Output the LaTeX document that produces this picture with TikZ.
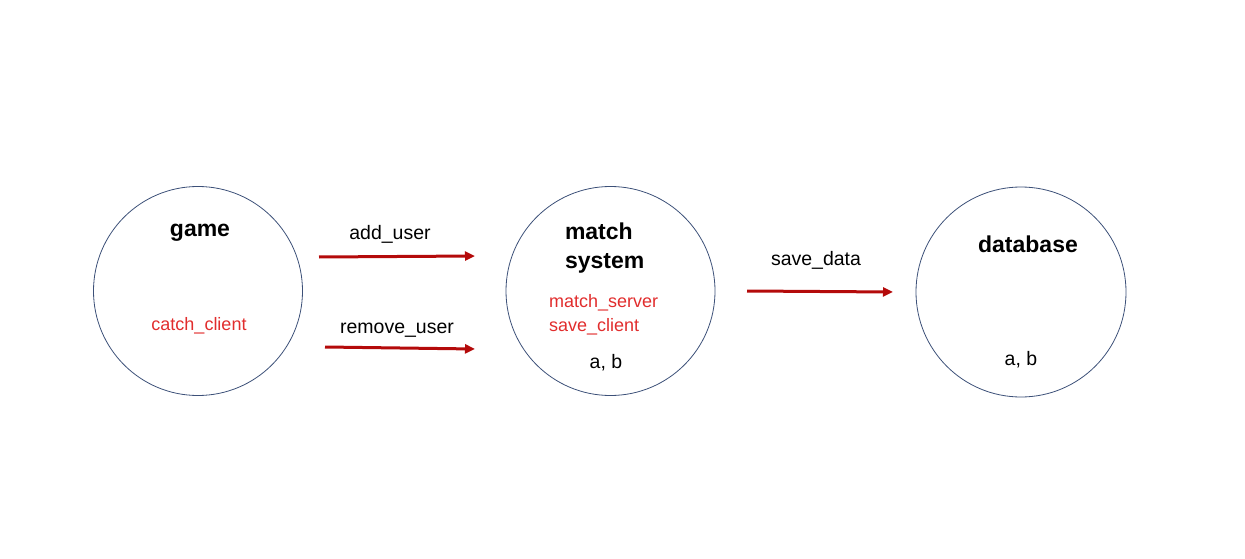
\documentclass[tikz,border=0pt]{standalone}
\usepackage{fontspec}
\setmainfont{Liberation Sans}
\usetikzlibrary{arrows.meta}
\definecolor{ringc}{RGB}{60,80,120}
\definecolor{arrc}{RGB}{180,10,10}
\definecolor{redt}{RGB}{225,45,45}
\tikzset{
  ring/.style={circle, draw=ringc, line width=0.8pt, inner sep=0pt},
  title/.style={font=\fontsize{23}{27}\selectfont\bfseries, text=black, inner sep=0pt, align=center},
  redtxt/.style={font=\fontsize{18}{24}\selectfont, text=redt, inner sep=0pt, align=left},
  plain/.style={font=\fontsize{19.5}{23}\selectfont, text=black, inner sep=0pt},
  flow/.style={draw=arrc, line width=3pt, -{Triangle[length=10pt,width=9pt]}}
}
\begin{document}
\begin{tikzpicture}[x=1pt,y=-1pt]
\useasboundingbox (0,0) rectangle (1245,559);
% circles
\node[ring, minimum size=209pt] (game) at (198,291) {};
\node[ring, minimum size=209pt] (match) at (610.5,291) {};
\node[ring, minimum size=210pt] (db) at (1021,292) {};
% texts inside
\node[title] (gameT) at (200,233) {game};
\node[redtxt] (gameR) at (199,326) {catch\_client};
\node[title, text width=80pt, align=left, font=\fontsize{23}{29}\selectfont\bfseries] (matchT) at (605,248) {match\\system};
\node[redtxt, align=left, anchor=west] (matchR) at (549,315) {match\_server\\save\_client};
\node[plain] (matchAB) at (606,363) {a, b};
\node[title] (dbT) at (1028,244) {database};
\node[plain] (dbAB) at (1021,360) {a, b};
% connectors
\coordinate (a1s) at (319,257);
\coordinate (a1e) at (475,256);
\coordinate (a2s) at (325,347);
\coordinate (a2e) at (475,349);
\coordinate (a3s) at (747,291);
\coordinate (a3e) at (893,292);
\draw[flow] (a1s) -- (a1e);
\draw[flow] (a2s) -- (a2e);
\draw[flow] (a3s) -- (a3e);
\node[plain] (l1) at (390,234) {add\_user};
\node[plain] (l2) at (397,330) {remove\_user};
\node[plain] (l3) at (816,260) {save\_data};
\end{tikzpicture}
\end{document}
